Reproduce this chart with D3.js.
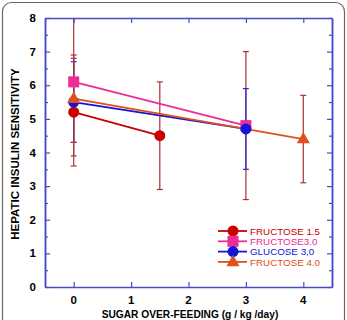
<!DOCTYPE html>
<html>
<head>
<meta charset="utf-8">
<script src="https://cdn.jsdelivr.net/npm/d3@7"></script>
<style>
body { margin: 0; background: #fff; }
svg { display: block; font-family: "Liberation Sans", Arial, sans-serif; }
</style>
</head>
<body>
<div id="chart"></div>
<script>
// series: [x, y, err]
var fructose15 = [[0, 5.2, 1.6], [1.5, 4.5, 1.6]];
var fructose30 = [[0, 6.1, 2.2], [3, 4.8, 2.2]];
var glucose30  = [[0, 5.5, 1.2], [3, 4.7, 1.2]];
var fructose40 = [[0, 5.6, 1.3], [4, 4.4, 1.3]];

var seriesNames = ["FRUCTOSE 1.5", "FRUCTOSE3.0", "GLUCOSE 3,0", "FRUCTOSE 4.0"];
var xTicks = [0, 1, 2, 3, 4];
var yTicks = [0, 1, 2, 3, 4, 5, 6, 7, 8];

var W = 347, H = 320;
var m = {left: 45, top: 18, right: 15, bottom: 33};

var svg = d3.select("#chart").append("svg").attr("width", W).attr("height", H);

// card frame
svg.append("rect")
	.attr("x", 2.5).attr("y", 2.5).attr("width", 342).attr("height", 340)
	.attr("rx", 9).attr("fill", "none").attr("stroke", "#666").attr("stroke-width", 1.2);

var x = d3.scaleLinear().domain([-0.5, 4.5]).range([m.left, W - m.right]);
var y = d3.scaleLinear().domain([0, 8]).range([H - m.bottom, m.top]);

var axisCol = "#4a4ac8";

var series = [
	{name: seriesNames[0], data: fructose15, color: "#c80000", err: "#b03030", shape: "circle"},
	{name: seriesNames[1], data: fructose30, color: "#ee2c96", err: "#b03030", shape: "square"},
	{name: seriesNames[2], data: glucose30, color: "#1515d8", err: "#2a2ad0", shape: "circle"},
	{name: seriesNames[3], data: fructose40, color: "#e0501a", err: "#b03030", shape: "triangle"}
];

svg.append("clipPath").attr("id", "plotclip").append("rect")
	.attr("x", m.left).attr("y", m.top)
	.attr("width", W - m.right - m.left).attr("height", H - m.bottom - m.top);

var plot = svg.append("g").attr("clip-path", "url(#plotclip)");

// error bars
series.forEach(function(s) {
	var g = plot.append("g");
	s.data.forEach(function(d) {
		g.append("line")
			.attr("x1", x(d[0])).attr("x2", x(d[0]))
			.attr("y1", y(d[1] - d[2])).attr("y2", y(d[1] + d[2]))
			.attr("stroke", s.err).attr("stroke-width", 1.2);
		[d[1] - d[2], d[1] + d[2]].forEach(function(v) {
			g.append("line")
				.attr("x1", x(d[0]) - 3).attr("x2", x(d[0]) + 3)
				.attr("y1", y(v)).attr("y2", y(v))
				.attr("stroke", s.err).attr("stroke-width", 1.2);
		});
	});
});

// lines
var line = d3.line().x(function(d) { return x(d[0]); }).y(function(d) { return y(d[1]); });
series.forEach(function(s) {
	plot.append("path").datum(s.data)
		.attr("d", line).attr("fill", "none")
		.attr("stroke", s.color).attr("stroke-width", 1.8);
});

function marker(g, shape, cx, cy, color) {
	if (shape == "circle")
		g.append("circle").attr("cx", cx).attr("cy", cy).attr("r", 5.5).attr("fill", color);
	else if (shape == "square")
		g.append("rect").attr("x", cx - 5.5).attr("y", cy - 5.5).attr("width", 11).attr("height", 11).attr("fill", color);
	else
		g.append("path").attr("d", d3.symbol().type(d3.symbolTriangle).size(75)())
			.attr("transform", "translate(" + cx + "," + (cy + 0.5) + ")").attr("fill", color);
}

// points
series.forEach(function(s) {
	s.data.forEach(function(d) { marker(plot, s.shape, x(d[0]), y(d[1]), s.color); });
});

// axes (ticks inside, mirrored)
var minorY = d3.range(0.5, 8, 1);
function axisLines(axis, g) {
	g.call(axis);
	g.select(".domain").attr("stroke", axisCol).attr("stroke-width", 1.5);
	g.selectAll(".tick line").attr("stroke", axisCol).attr("stroke-width", 1.2);
	g.selectAll("text").remove();
}
axisLines(d3.axisBottom(x).tickValues(xTicks).tickSizeInner(-5).tickSizeOuter(0),
	svg.append("g").attr("transform", "translate(0," + (H - m.bottom) + ")"));
axisLines(d3.axisTop(x).tickValues(xTicks).tickSizeInner(-5).tickSizeOuter(0),
	svg.append("g").attr("transform", "translate(0," + m.top + ")"));
axisLines(d3.axisLeft(y).tickValues(yTicks).tickSizeInner(-5).tickSizeOuter(0),
	svg.append("g").attr("transform", "translate(" + m.left + ",0)"));
axisLines(d3.axisRight(y).tickValues(yTicks).tickSizeInner(-5).tickSizeOuter(0),
	svg.append("g").attr("transform", "translate(" + (W - m.right) + ",0)"));
axisLines(d3.axisLeft(y).tickValues(minorY).tickSizeInner(-3).tickSizeOuter(0),
	svg.append("g").attr("transform", "translate(" + m.left + ",0)"));
axisLines(d3.axisRight(y).tickValues(minorY).tickSizeInner(-3).tickSizeOuter(0),
	svg.append("g").attr("transform", "translate(" + (W - m.right) + ",0)"));

// tick labels
svg.append("g").selectAll("text").data(yTicks).enter().append("text")
	.attr("x", m.left - 9).attr("y", function(d) { return y(d) + 4; })
	.attr("text-anchor", "end").attr("font-size", 11.5).attr("font-weight", "bold")
	.text(function(d) { return d; });
svg.append("g").selectAll("text").data(xTicks).enter().append("text")
	.attr("x", function(d) { return x(d); }).attr("y", H - m.bottom + 17)
	.attr("text-anchor", "middle").attr("font-size", 11.5).attr("font-weight", "bold")
	.text(function(d) { return d; });

// axis titles
svg.append("text")
	.attr("x", 190).attr("y", 318)
	.attr("text-anchor", "middle").attr("font-size", 10.2).attr("font-weight", "bold")
	.text("SUGAR OVER-FEEDING (g / kg /day)");
svg.append("text")
	.attr("transform", "translate(19,154) rotate(-90)")
	.attr("text-anchor", "middle").attr("font-size", 11.5).attr("font-weight", "bold")
	.text("HEPATIC INSULIN SENSITIVITY");

// legend
var legend = svg.append("g").attr("transform", "translate(218,231)");
series.forEach(function(s, i) {
	var row = legend.append("g").attr("transform", "translate(0," + (i * 10.3) + ")");
	row.append("line").attr("x1", 0).attr("x2", 29).attr("y1", 0).attr("y2", 0)
		.attr("stroke", s.color).attr("stroke-width", 1.8);
	marker(row, s.shape, 15, 0, s.color);
	row.append("text").attr("x", 32).attr("y", 3.8)
		.attr("font-size", 9.8).attr("fill", s.color).text(s.name);
});
</script>
</body>
</html>
